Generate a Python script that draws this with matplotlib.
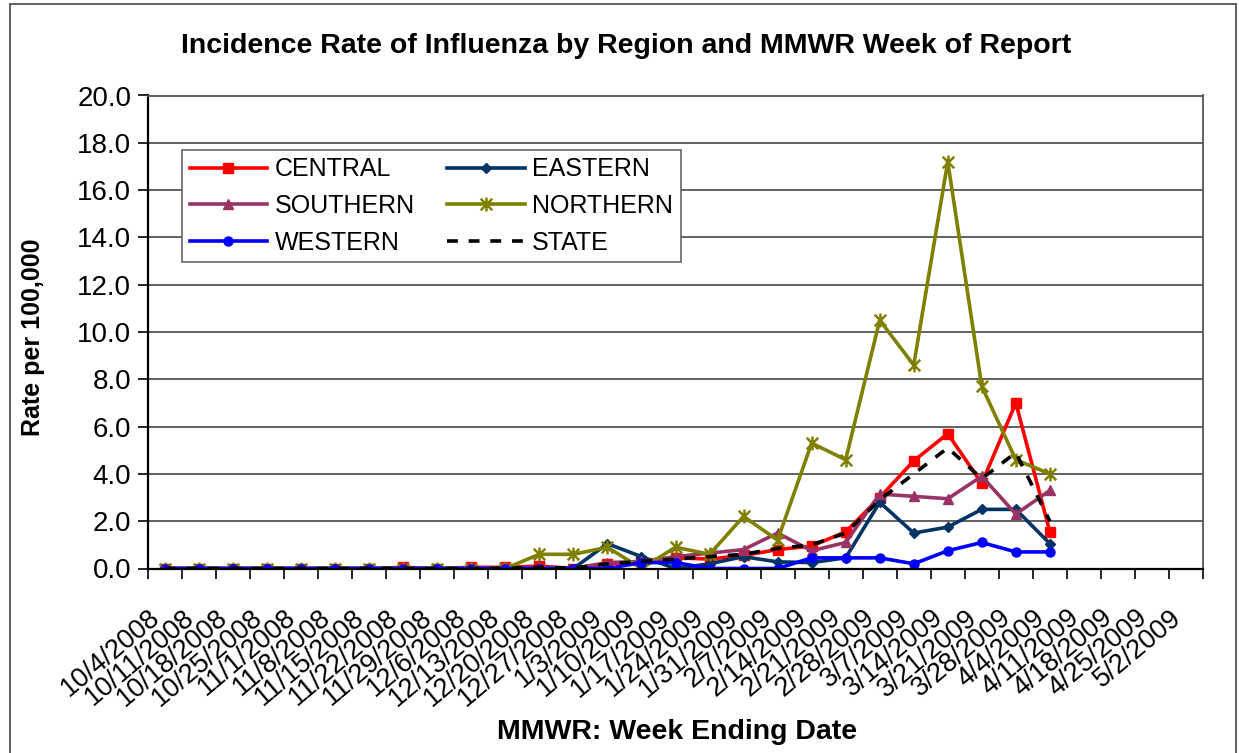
import numpy as np
import matplotlib
matplotlib.use("Agg")
import matplotlib.pyplot as plt
from matplotlib.path import Path
from matplotlib.patches import Rectangle

plt.rcParams['font.family'] = ['Liberation Sans', 'DejaVu Sans']

# week ending dates (MMWR)
weeks = ["10/4/2008", "10/11/2008", "10/18/2008", "10/25/2008", "11/1/2008",
         "11/8/2008", "11/15/2008", "11/22/2008", "11/29/2008", "12/6/2008",
         "12/13/2008", "12/20/2008", "12/27/2008", "1/3/2009", "1/10/2009",
         "1/17/2009", "1/24/2009", "1/31/2009", "2/7/2009", "2/14/2009",
         "2/21/2009", "2/28/2009", "3/7/2009", "3/14/2009", "3/21/2009",
         "3/28/2009", "4/4/2009", "4/11/2009", "4/18/2009", "4/25/2009",
         "5/2/2009"]

# rates per 100,000 (reported through 4/4/2009)
central = [0, 0, 0, 0, 0, 0, 0, 0.05, 0, 0.05, 0.05, 0.1, 0.0, 0.2, 0.3,
           0.45, 0.4, 0.55, 0.8, 0.95, 1.55, 3.0, 4.55, 5.7, 3.6, 7.0, 1.55]
eastern = [0, 0, 0, 0, 0, 0, 0, 0, 0, 0, 0, 0, 0, 1.05, 0.5,
           0.0, 0.2, 0.5, 0.28, 0.25, 0.45, 2.8, 1.5, 1.75, 2.5, 2.5, 1.05]
southern = [0, 0, 0, 0, 0, 0, 0, 0, 0, 0, 0, 0.05, 0.0, 0.25, 0.3,
            0.5, 0.65, 0.8, 1.5, 0.75, 1.1, 3.15, 3.05, 2.95, 3.9, 2.3, 3.3]
northern = [0, 0, 0, 0, 0, 0, 0, 0, 0, 0, 0, 0.6, 0.6, 0.9, 0.0,
            0.9, 0.6, 2.2, 1.2, 5.3, 4.6, 10.5, 8.6, 17.2, 7.7, 4.6, 4.0]
western = [0, 0, 0, 0, 0, 0, 0, 0, 0, 0, 0, 0, 0, 0, 0.25,
           0.25, 0, 0, 0, 0.45, 0.45, 0.45, 0.2, 0.75, 1.1, 0.7, 0.7]
state = [0, 0, 0, 0, 0, 0, 0, 0, 0, 0, 0, 0.05, 0.02, 0.2, 0.3,
         0.4, 0.5, 0.6, 0.85, 1.0, 1.5, 2.9, 4.0, 5.1, 3.8, 4.9, 2.0]

# Excel style asterisk marker (X with vertical bar)
star = Path([(-1, -1), (1, 1), (-1, 1), (1, -1), (0, -1.2), (0, 1.2)],
            [Path.MOVETO, Path.LINETO, Path.MOVETO, Path.LINETO, Path.MOVETO, Path.LINETO])

fig = plt.figure(figsize=(12.39, 7.53), dpi=100)
fig.patches.append(Rectangle((10 / 1239, -0.02), 1226 / 1239, 1.02 - 4 / 753,
                             transform=fig.transFigure, fill=False,
                             edgecolor='#444444', linewidth=1.2))

ax = fig.add_axes([148 / 1239, 1 - 568.5 / 753, 1055 / 1239, 473 / 753])

x = np.arange(len(central))
lw = 2.6
ax.plot(x, central, color='#FF0000', lw=lw, marker='s', ms=6.5, label='CENTRAL')
ax.plot(x, eastern, color='#003366', lw=lw, marker='D', ms=5.5, label='EASTERN')
ax.plot(x, southern, color='#993366', lw=lw, marker='^', ms=7.5, label='SOUTHERN')
ax.plot(x, northern, color='#808000', lw=lw, marker=star, ms=10, mew=1.8,
        mec='#808000', label='NORTHERN')
ax.plot(x, western, color='#0000FF', lw=lw, marker='o', ms=6.5, label='WESTERN')
ax.plot(x, state, color='black', lw=lw, ls=(0, (3, 3)), label='STATE')

ax.set_xlim(-0.5, len(weeks) - 0.5)
ax.set_ylim(0, 20)
ax.set_yticks(np.arange(0, 20.1, 2))
ax.set_yticklabels([f"{v:.1f}" for v in np.arange(0, 20.1, 2)], fontsize=20)
ax.yaxis.grid(True, color='#555555', lw=1.3)
ax.set_axisbelow(True)

ax.set_xticks(np.arange(len(weeks)))
ax.set_xticklabels(weeks, rotation=40, ha='right', fontsize=19.5)
ax.set_xticks(np.arange(len(weeks) + 1) - 0.5, minor=True)
ax.tick_params(axis='x', which='major', length=0, pad=26)
ax.tick_params(axis='x', which='minor', length=7, width=1.2, direction='out')
ax.tick_params(axis='y', length=7, width=1.2, direction='out', pad=5)

for side in ['left', 'bottom']:
    ax.spines[side].set_color('black')
    ax.spines[side].set_linewidth(1.6)
for side in ['top', 'right']:
    ax.spines[side].set_color('#555555')
    ax.spines[side].set_linewidth(1.3)

fig.text(33 / 1239, 1 - 337 / 753, "Rate per 100,000", fontsize=18,
         fontweight='bold', rotation=90, ha='center', va='center')
fig.text(677 / 1239, 1 - 732 / 753, "MMWR: Week Ending Date", fontsize=20.5,
         fontweight='bold', ha='center', va='center')
fig.text(626 / 1239, 1 - 46 / 753,
         "Incidence Rate of Influenza by Region and MMWR Week of Report",
         fontsize=20.5, fontweight='bold', ha='center', va='center')

h, l = ax.get_legend_handles_labels()
order = [0, 2, 4, 1, 3, 5]
leg = fig.legend([h[i] for i in order], [l[i] for i in order], ncol=2,
                 loc='upper left', bbox_to_anchor=(182 / 1239, 1 - 150 / 753),
                 fontsize=18, frameon=True, fancybox=False, framealpha=1,
                 edgecolor='#666666', handlelength=3.1, handletextpad=0.3,
                 columnspacing=1.3, labelspacing=0.5, borderpad=0.3,
                 borderaxespad=0)
leg.get_frame().set_linewidth(1.2)

fig.savefig("out.png", dpi=100)
